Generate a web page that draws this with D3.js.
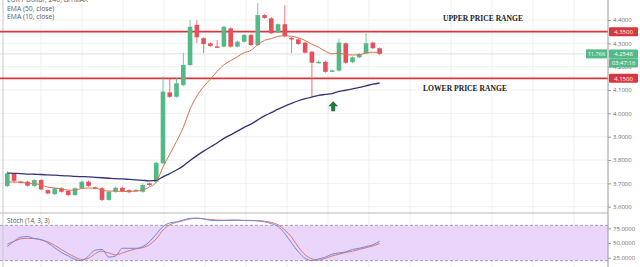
<!DOCTYPE html>
<html>
<head>
<meta charset="utf-8">
<script src="https://cdn.jsdelivr.net/npm/d3@7/dist/d3.min.js"></script>
<style>
  body { margin: 0; background: #fff; }
  svg { display: block; font-family: 'Open Sans', 'DejaVu Sans', sans-serif; }
</style>
</head>
<body>
<div id="chart"></div>
<script>
// candle data (4h bars)
var candleOpen = [3.689, 3.740, 3.708, 3.707, 3.689, 3.714, 3.671, 3.654, 3.679, 3.668,
  3.650, 3.679, 3.707, 3.682, 3.679, 3.629, 3.664, 3.681, 3.671, 3.670,
  3.664, 3.700, 3.707, 3.786, 4.090, 4.071, 4.121, 4.207, 4.379, 4.322,
  4.300, 4.287, 4.286, 4.364, 4.286, 4.307, 4.336, 4.293, 4.421, 4.407,
  4.346, 4.382, 4.323, 4.317, 4.303, 4.264, 4.217, 4.221, 4.181, 4.183,
  4.300, 4.219, 4.240, 4.257, 4.303, 4.279]
var candleHigh = [3.753, 3.745, 3.712, 3.712, 3.718, 3.718, 3.674, 3.683, 3.683, 3.672,
  3.683, 3.712, 3.712, 3.686, 3.684, 3.668, 3.685, 3.685, 3.675, 3.676,
  3.700, 3.704, 3.793, 4.157, 4.151, 4.151, 4.259, 4.400, 4.400, 4.326,
  4.304, 4.314, 4.376, 4.369, 4.311, 4.340, 4.340, 4.472, 4.425, 4.412,
  4.386, 4.464, 4.327, 4.321, 4.307, 4.268, 4.226, 4.226, 4.188, 4.319,
  4.304, 4.244, 4.258, 4.344, 4.307, 4.283]
var candleLow = [3.684, 3.701, 3.700, 3.686, 3.686, 3.670, 3.653, 3.650, 3.660, 3.645,
  3.646, 3.675, 3.685, 3.675, 3.624, 3.625, 3.660, 3.663, 3.658, 3.666,
  3.660, 3.689, 3.703, 3.782, 4.066, 4.067, 4.117, 4.203, 4.301, 4.259,
  4.285, 4.282, 4.282, 4.282, 4.282, 4.303, 4.289, 4.289, 4.405, 4.339,
  4.342, 4.326, 4.259, 4.293, 4.256, 4.071, 4.213, 4.174, 4.177, 4.179,
  4.213, 4.215, 4.236, 4.253, 4.275, 4.251]
var candleClose = [3.743, 3.711, 3.705, 3.690, 3.714, 3.674, 3.657, 3.679, 3.664, 3.650,
  3.679, 3.707, 3.689, 3.679, 3.629, 3.664, 3.681, 3.667, 3.662, 3.672,
  3.693, 3.693, 3.788, 4.093, 4.071, 4.129, 4.207, 4.371, 4.326, 4.297,
  4.289, 4.285, 4.371, 4.286, 4.307, 4.336, 4.293, 4.421, 4.409, 4.343,
  4.382, 4.331, 4.321, 4.297, 4.260, 4.217, 4.221, 4.178, 4.184, 4.303,
  4.217, 4.240, 4.254, 4.300, 4.279, 4.2548]

// EMA (10, close) and EMA (50, close)
var ema10 = [3.706, 3.706, 3.704, 3.701, 3.699, 3.693, 3.684, 3.680, 3.676, 3.671,
  3.671, 3.678, 3.680, 3.680, 3.671, 3.667, 3.667, 3.665, 3.665, 3.667,
  3.671, 3.685, 3.705, 3.770, 3.825, 3.880, 3.940, 4.018, 4.074, 4.114,
  4.146, 4.180, 4.208, 4.226, 4.243, 4.260, 4.270, 4.294, 4.313, 4.320,
  4.330, 4.332, 4.330, 4.324, 4.312, 4.296, 4.283, 4.266, 4.255, 4.258,
  4.252, 4.250, 4.251, 4.259, 4.262, 4.261]
var ema50 = [3.744, 3.743, 3.742, 3.740, 3.739, 3.738, 3.736, 3.735, 3.733, 3.732,
  3.730, 3.729, 3.728, 3.726, 3.724, 3.722, 3.720, 3.719, 3.717, 3.715,
  3.713, 3.711, 3.713, 3.728, 3.742, 3.757, 3.775, 3.798, 3.819, 3.838,
  3.856, 3.873, 3.893, 3.908, 3.924, 3.940, 3.954, 3.972, 3.989, 4.003,
  4.018, 4.031, 4.043, 4.054, 4.063, 4.070, 4.077, 4.081, 4.085, 4.094,
  4.099, 4.105, 4.111, 4.118, 4.125, 4.130]

// Stoch (14, 3, 3)
var stochK = [44, 53, 60, 61, 57.5, 56, 50, 42, 34, 28,
  22, 20, 28, 38, 39, 26, 28, 41, 41, 41,
  44, 52, 65, 78, 84, 86, 89, 92, 92.3, 91,
  88.5, 88, 88.5, 89, 89, 88.5, 88.5, 87.5, 86, 83,
  78, 66, 50, 35, 24, 20, 23, 26, 31, 33,
  35, 39, 41, 44, 47, 53]
var stochD = [48, 53, 57, 58, 57.5, 55, 52, 46, 39, 32,
  26, 22, 24, 32, 36, 33, 30, 33, 37, 40,
  42, 47, 57, 72, 81, 85, 88, 91, 92, 91,
  90, 89, 88.5, 88.5, 88.5, 88, 88, 88, 87, 85,
  81, 72, 60, 43, 30, 23, 21, 24, 28, 31,
  34, 36, 39, 42, 45, 49]

var priceTicks = [3.6, 3.7, 3.8, 3.9, 4.0, 4.1, 4.2, 4.3, 4.4]
var stochTicks = [25, 50, 75]
var rangeLevels = [4.35, 4.15]
var lastPrice = 4.2548

var COLOR = {
  UP: '#53b987',
  DOWN: '#e5505c',
  LEVEL: '#d9363e',
  EMA10: '#d9704e',
  EMA50: '#34327a',
  K: '#6b8be0',
  D: '#e2736e',
  BAND: '#ead6fb',
  GRID: '#f0f0f0',
  AXIS: '#9a9a9a',
  TEXT: '#6b6b6b'
}

var width = 640
var height = 267
var axisX = 608
var paneSplit = 213

var svg = d3
  .select('#chart')
  .append('svg')
  .attr('width', width)
  .attr('height', height)

var x = d3.scaleLinear().domain([0, 55]).range([7.3, 379.6])
var y = d3.scaleLinear().domain([3.6, 4.4]).range([206.7, 20])
var ys = d3.scaleLinear().domain([25, 75]).range([257.7, 228.3])

// grid
var grid = svg.append('g')
grid
  .selectAll('.vgrid')
  .data(d3.range(41, axisX, 41))
  .enter()
  .append('line')
  .attr('x1', d => d)
  .attr('x2', d => d)
  .attr('y1', 0)
  .attr('y2', height)
  .attr('stroke', COLOR.GRID)
grid
  .selectAll('.hgrid')
  .data(priceTicks)
  .enter()
  .append('line')
  .attr('x1', 0)
  .attr('x2', axisX)
  .attr('y1', d => y(d))
  .attr('y2', d => y(d))
  .attr('stroke', COLOR.GRID)

// stoch band
svg
  .append('rect')
  .attr('x', 0)
  .attr('width', axisX)
  .attr('y', ys(80))
  .attr('height', ys(20) - ys(80))
  .attr('fill', COLOR.BAND)
svg
  .selectAll('.band-edge')
  .data([80, 20])
  .enter()
  .append('line')
  .attr('x1', 0)
  .attr('x2', axisX)
  .attr('y1', d => ys(d))
  .attr('y2', d => ys(d))
  .attr('stroke', '#8d8d9a')
  .attr('stroke-dasharray', '3,2')
  .attr('stroke-width', 0.8)

// left frame + pane separator
svg.append('line').attr('x1', 3).attr('x2', 3).attr('y1', 0).attr('y2', height).attr('stroke', '#c9c9c9')
svg.append('line').attr('x1', 0).attr('x2', width).attr('y1', paneSplit).attr('y2', paneSplit).attr('stroke', '#b5b5b5')

// last price line
svg
  .append('line')
  .attr('x1', 0)
  .attr('x2', axisX)
  .attr('y1', y(lastPrice))
  .attr('y2', y(lastPrice))
  .attr('stroke', '#c8dcd0')
  .attr('stroke-width', 0.8)

// range lines
svg
  .selectAll('.level')
  .data(rangeLevels)
  .enter()
  .append('line')
  .attr('x1', 0)
  .attr('x2', axisX)
  .attr('y1', d => y(d))
  .attr('y2', d => y(d))
  .attr('stroke', COLOR.LEVEL)
  .attr('stroke-width', 1.6)

// candles
var candles = svg
  .selectAll('.candle')
  .data(candleOpen.map((o, i) => ({ i: i, o: o, h: candleHigh[i], l: candleLow[i], c: candleClose[i] })))
  .enter()
  .append('g')
var candleColor = d => (d.c >= d.o ? COLOR.UP : COLOR.DOWN)
candles
  .append('line')
  .attr('x1', d => x(d.i))
  .attr('x2', d => x(d.i))
  .attr('y1', d => y(d.h))
  .attr('y2', d => y(d.l))
  .attr('stroke', candleColor)
  .attr('stroke-width', 0.8)
candles
  .append('rect')
  .attr('x', d => x(d.i) - 2.3)
  .attr('width', 4.6)
  .attr('y', d => y(Math.max(d.o, d.c)))
  .attr('height', d => Math.max(1.5, Math.abs(y(d.o) - y(d.c))))
  .attr('fill', candleColor)

// EMAs
var line = d3.line().x((d, i) => x(i)).y(d => y(d)).curve(d3.curveMonotoneX)
svg.append('path').datum(ema50).attr('d', line).attr('fill', 'none').attr('stroke', COLOR.EMA50).attr('stroke-width', 1.3)
svg.append('path').datum(ema10).attr('d', line).attr('fill', 'none').attr('stroke', COLOR.EMA10).attr('stroke-width', 1)

// stoch lines
var sline = d3.line().x((d, i) => x(i)).y(d => ys(d)).curve(d3.curveMonotoneX)
svg.append('path').datum(stochD).attr('d', sline).attr('fill', 'none').attr('stroke', COLOR.D).attr('stroke-width', 1)
svg.append('path').datum(stochK).attr('d', sline).attr('fill', 'none').attr('stroke', COLOR.K).attr('stroke-width', 1)

// up arrow under the range
var ax = x(48) + 1
var ay = y(4.052)
svg
  .append('path')
  .attr('d', 'M' + ax + ',' + ay + 'l5,5h-3v5h-4v-5h-3z')
  .attr('fill', '#1f7a3a')

// annotations
svg
  .append('text')
  .attr('x', 483)
  .attr('y', y(4.35) - 11)
  .attr('text-anchor', 'middle')
  .attr('font-family', 'Liberation Serif, serif')
  .attr('font-weight', 'bold')
  .attr('font-size', '7.6px')
  .attr('fill', '#222')
  .text('UPPER PRICE RANGE')
svg
  .append('text')
  .attr('x', 465)
  .attr('y', y(4.15) + 13)
  .attr('text-anchor', 'middle')
  .attr('font-family', 'Liberation Serif, serif')
  .attr('font-weight', 'bold')
  .attr('font-size', '7.6px')
  .attr('fill', '#222')
  .text('LOWER PRICE RANGE')

// legend
var legend = ['EUR / Dollar, 240, BITMAX', 'EMA (50, close)', 'EMA (10, close)']
svg
  .selectAll('.legend')
  .data(legend)
  .enter()
  .append('text')
  .attr('x', 7)
  .attr('y', (d, i) => 2 + i * 8.6)
  .attr('font-size', '6.8px')
  .attr('fill', TEXT_COLOR())
  .text(d => d)
function TEXT_COLOR () { return '#5a5a5a' }

svg
  .append('text')
  .attr('x', 7)
  .attr('y', 222.5)
  .attr('font-size', '6.3px')
  .attr('fill', '#555')
  .text('Stoch (14, 3, 3)')

// price axis
svg.append('rect').attr('x', axisX).attr('y', 0).attr('width', width - axisX).attr('height', height).attr('fill', '#fff')
svg.append('line').attr('x1', axisX).attr('x2', axisX).attr('y1', 0).attr('y2', height).attr('stroke', COLOR.AXIS)

var priceAxis = svg
  .append('g')
  .attr('transform', 'translate(' + axisX + ',0)')
  .call(d3.axisRight(y).tickValues(priceTicks).tickFormat(d3.format('.4f')).tickSize(3).tickPadding(2))
priceAxis.select('.domain').remove()
priceAxis.selectAll('line').attr('stroke', COLOR.AXIS)
priceAxis.selectAll('text').attr('font-size', '6px').attr('fill', COLOR.TEXT).attr('font-family', 'Open Sans, sans-serif')

var stochAxis = svg
  .append('g')
  .attr('transform', 'translate(' + axisX + ',0)')
  .call(d3.axisRight(ys).tickValues(stochTicks).tickFormat(d3.format('.4f')).tickSize(3).tickPadding(2))
stochAxis.select('.domain').remove()
stochAxis.selectAll('line').attr('stroke', COLOR.AXIS)
stochAxis.selectAll('text').attr('font-size', '6px').attr('fill', COLOR.TEXT).attr('font-family', 'Open Sans, sans-serif')

// price tags
var tags = [
  { v: 4.35, label: '4.3500', color: COLOR.LEVEL, dy: 0 },
  { v: 4.15, label: '4.1500', color: COLOR.LEVEL, dy: 0 },
  { v: lastPrice, label: '4.2548', color: COLOR.UP, dy: 0 },
  { v: lastPrice, label: '03:47:16', color: COLOR.UP, dy: 9 }
]
var tag = svg.selectAll('.tag').data(tags).enter().append('g')
tag
  .append('rect')
  .attr('x', axisX + 1)
  .attr('y', d => y(d.v) + d.dy - 4.5)
  .attr('width', 29)
  .attr('height', 9)
  .attr('rx', 1)
  .attr('fill', d => d.color)
tag
  .append('text')
  .attr('x', axisX + 15.5)
  .attr('y', d => y(d.v) + d.dy + 2.2)
  .attr('text-anchor', 'middle')
  .attr('font-size', '6px')
  .attr('fill', '#fff')
  .text(d => d.label)

// volume tag left of axis
svg
  .append('rect')
  .attr('x', axisX - 22)
  .attr('y', y(lastPrice) - 4.5)
  .attr('width', 21)
  .attr('height', 9)
  .attr('fill', COLOR.UP)
svg
  .append('text')
  .attr('x', axisX - 11.5)
  .attr('y', y(lastPrice) + 2.2)
  .attr('text-anchor', 'middle')
  .attr('font-size', '5.6px')
  .attr('fill', '#fff')
  .text('11.76K')
</script>
</body>
</html>
